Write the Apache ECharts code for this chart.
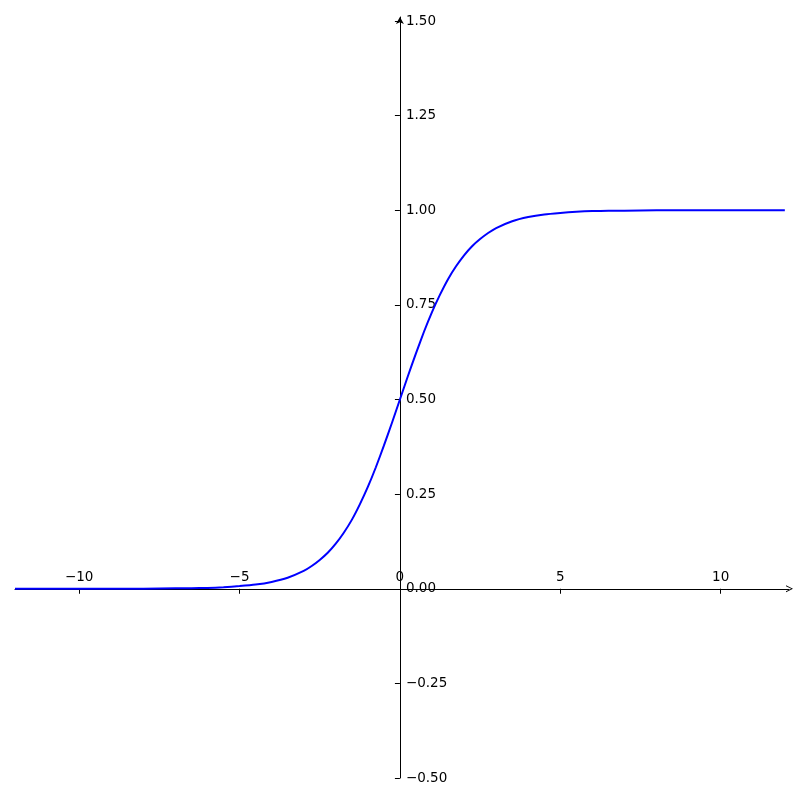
<!DOCTYPE html>
<html>
<head>
<meta charset="utf-8">
<script src="https://cdn.jsdelivr.net/npm/echarts@6/dist/echarts.min.js"></script>
<style>
  html, body { margin: 0; padding: 0; background: #fff; }
  #main { width: 800px; height: 800px; }
</style>
</head>
<body>
<div id="main"></div>
<script>
// values (logistic curve)
var xs = [-12, -11, -10, -9, -8, -7, -6.5, -6, -5.5, -5, -4.5, -4, -3.5, -3, -2.75, -2.5, -2.25, -2, -1.75, -1.5, -1.25, -1,
  -0.75, -0.5, -0.25, 0, 0.25, 0.5, 0.75, 1, 1.25, 1.5, 1.75, 2, 2.25, 2.5, 2.75, 3, 3.5, 4, 4.5, 5, 5.5,
  6, 6.5, 7, 8, 9, 10, 11, 12];
var ys = [0.000, 0.000, 0.000, 0.000, 0.000, 0.001, 0.0015, 0.002, 0.004, 0.007, 0.011, 0.018, 0.029, 0.047, 0.060, 0.076, 0.095, 0.119, 0.148, 0.182, 0.223, 0.269,
  0.321, 0.378, 0.438, 0.500, 0.562, 0.622, 0.679, 0.731, 0.777, 0.818, 0.852, 0.881, 0.905, 0.924, 0.940, 0.953, 0.971, 0.982, 0.989, 0.993, 0.996,
  0.998, 0.9985, 0.999, 1.000, 1.000, 1.000, 1.000, 1.000];
var xTicks = [-10, -5, 0, 5, 10];
var yTicks = [-0.5, -0.25, 0, 0.25, 0.5, 0.75, 1, 1.25, 1.5];

var chart = echarts.init(document.getElementById('main'), null, { renderer: 'canvas' });

var pts = [];
for (var i = 0; i < xs.length; i++) {
  pts.push([xs[i], ys[i]]);
}

function minus(s) {
  return s.replace('-', '\u2212');
}

var font = 'DejaVu Sans';

// grid box
var gLeft = 15, gRight = 11, gTop = 17, gBottom = 22;
var xMin = -12, xMax = 12.13, yMin = -0.5, yMax = 1.5106;
var gw = 800 - gLeft - gRight, gh = 800 - gTop - gBottom;
// shift axes so they cross at the origin
var xOff = -(gh * (0 - yMin) / (yMax - yMin));
var yOff = -(gw * (0 - xMin) / (xMax - xMin));

var option = {
  backgroundColor: '#ffffff',
  animation: false,
  grid: {
    left: gLeft,
    right: gRight,
    top: gTop,
    bottom: gBottom
  },
  xAxis: {
    type: 'value',
    min: xMin,
    max: xMax,
    position: 'bottom',
    offset: xOff,
    splitLine: { show: false },
    axisLine: {
      onZero: false,
      lineStyle: { color: '#000', width: 1 },
      symbol: ['none', 'path://M0,10 L5,0 L10,10 L8.6,10 L5,2.6 L1.4,10 Z'],
      symbolSize: [7, 7],
      symbolOffset: [0, 0.5]
    },
    axisTick: {
      show: true,
      inside: false,
      length: 5,
      lineStyle: { color: '#000' },
      customValues: xTicks
    },
    axisLabel: {
      inside: true,
      margin: 4,
      color: '#000',
      fontFamily: font,
      fontSize: 13.5,
      customValues: xTicks,
      formatter: function (v) { return minus(String(v)); }
    }
  },
  yAxis: {
    type: 'value',
    min: yMin,
    max: yMax,
    position: 'left',
    offset: yOff,
    splitLine: { show: false },
    axisLine: {
      onZero: false,
      lineStyle: { color: '#000', width: 1 },
      symbol: ['none', 'arrow'],
      symbolSize: [6, 7],
      symbolOffset: [0, 0]
    },
    axisTick: {
      show: true,
      inside: false,
      length: 5,
      lineStyle: { color: '#000' },
      customValues: yTicks
    },
    axisLabel: {
      inside: true,
      margin: 6,
      color: '#000',
      fontFamily: font,
      fontSize: 13.5,
      customValues: yTicks,
      formatter: function (v) { return minus(v.toFixed(2)); }
    }
  },
  series: [{
    type: 'line',
    data: pts,
    showSymbol: false,
    smooth: 0.15,
    lineStyle: { color: '#0000ff', width: 2 },
    z: 1
  }]
};

chart.setOption(option);
</script>
</body>
</html>
